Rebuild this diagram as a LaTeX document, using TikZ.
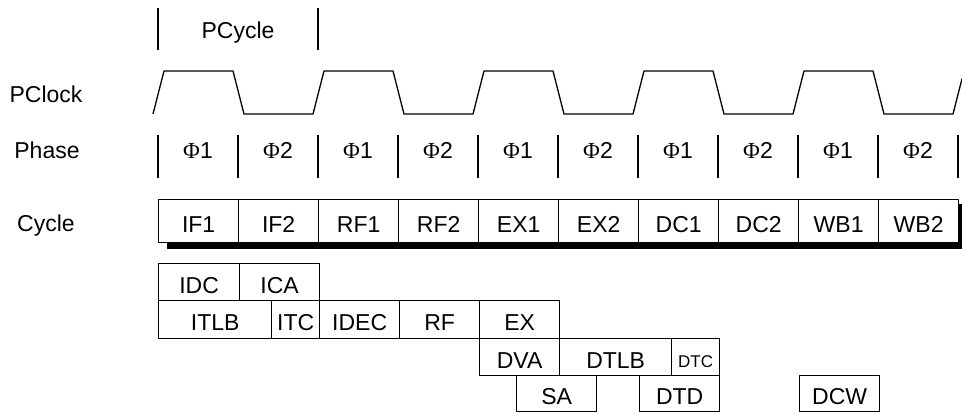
\documentclass[tikz,border=0pt]{standalone}
\usepackage{fontspec}
\setmainfont{Liberation Sans}
\newfontfamily\phifont{Liberation Serif}
\tikzset{
  stage/.style={draw,line width=1.3pt,fill=white,inner sep=0pt,anchor=north west,
    text height=22pt,text depth=0pt},
  rowlabel/.style={anchor=base},
}
\begin{document}
\begin{tikzpicture}[x=1pt,y=-1pt,line join=round,font=\fontsize{23}{27}\selectfont]
  \useasboundingbox (0,0) rectangle (962,413);
  \node[rowlabel] (pcycle) at (238,38) {PCycle};
  \node[rowlabel] (lclock) at (46,102) {PClock};
  \node[rowlabel] (lphase) at (47,158) {Phase};
  \node[rowlabel] (lcycle) at (46,231) {Cycle};
  \draw[line width=1.3pt] (158,8) -- (158,50) (318,8) -- (318,50);
  \draw[line width=1.3pt] (153,114)
    \foreach \i in {0,...,4} {-- ++(11,-43) -- ++(69,0) -- ++(11,43) -- ++(69,0)}
    -- (962,78.8);
  \foreach \i in {0,...,10}
    \draw[line width=1.3pt] (158+80*\i,135) -- (158+80*\i,178);
  \foreach \i in {0,...,4} {
    \node[rowlabel] (phia\i) at (198+160*\i,158) {{\phifont Φ}1};
    \node[rowlabel] (phib\i) at (278+160*\i,158) {{\phifont Φ}2};
  }
  \fill (167,204) rectangle (962,249);
  \foreach \name [count=\i from 0] in {IF1,IF2,RF1,RF2,EX1,EX2,DC1,DC2,WB1,WB2}
    \node[stage,minimum width=80pt,minimum height=43pt] (c\i) at (158+80*\i,199) {\name};
  \node[stage,minimum width=81pt,minimum height=37pt] (idc) at (158,263) {IDC};
  \node[stage,minimum width=80pt,minimum height=37pt] (ica) at (239,263) {ICA};
  \node[stage,minimum width=113pt,minimum height=38pt] (itlb) at (158,300) {ITLB};
  \node[stage,minimum width=48pt,minimum height=38pt] (itc) at (271,300) {ITC};
  \node[stage,minimum width=80pt,minimum height=38pt] (idec) at (319,300) {IDEC};
  \node[stage,minimum width=80pt,minimum height=38pt] (rf) at (399,300) {RF};
  \node[stage,minimum width=80pt,minimum height=38pt] (ex) at (479,300) {EX};
  \node[stage,minimum width=80pt,minimum height=37pt] (dva) at (479,338) {DVA};
  \node[stage,minimum width=112pt,minimum height=37pt] (dtlb) at (559,338) {DTLB};
  \node[stage,minimum width=48pt,minimum height=37pt,font=\fontsize{17}{20}\selectfont,
    text height=20pt] (dtc) at (671,338) {DTC};
  \node[stage,minimum width=80pt,minimum height=36pt] (sa) at (516,375) {SA};
  \node[stage,minimum width=80pt,minimum height=36pt] (dtd) at (639,375) {DTD};
  \node[stage,minimum width=80pt,minimum height=36pt] (dcw) at (799,375) {DCW};
\end{tikzpicture}
\end{document}
